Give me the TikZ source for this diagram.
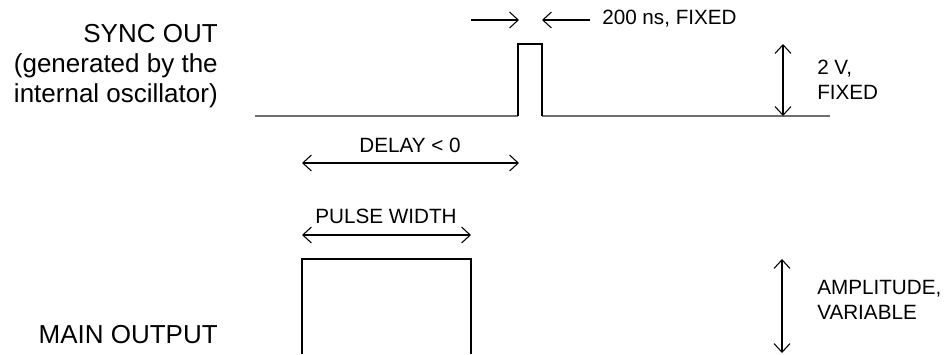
\documentclass[tikz,border=0pt]{standalone}
\usepackage{fontspec}
\setmainfont{Liberation Sans}
\usetikzlibrary{arrows.meta}
\definecolor{lgray}{RGB}{110, 110, 110}

\begin{document}
\begin{tikzpicture}[x = 0.75pt, y = -0.75pt,
	>={Straight Barb[length=6.5pt, width=12pt]},
	wave/.style = {line width = 1.1pt, black},
	base/.style = {line width = 1.5pt, lgray},
	dim/.style = {line width = 0.8pt, black},
	small/.style = {inner sep = 0pt, font = \fontsize{15.5pt}{18.5pt}\selectfont},
	big/.style = {inner sep = 0pt, font = \fontsize{19.5pt}{22.5pt}\selectfont}]
			\useasboundingbox (0,0) rectangle (945,354);
			% sync out waveform
			\coordinate (a) at (255,116);
			\coordinate (b) at (518,116);
			\coordinate (c) at (518,44);
			\coordinate (d) at (542,44);
			\coordinate (e) at (542,116);
			\coordinate (f) at (830,116);
			\draw[base] (a) -- (b);
			\draw[base] (e) -- (f);
			\draw[wave] (b) -- (c) -- (d) -- (e);
			% main output waveform
			\coordinate (g) at (302,354);
			\coordinate (h) at (302,259);
			\coordinate (i) at (471,259);
			\coordinate (j) at (471,354);
			\draw[wave] (g) -- (h) -- (i) -- (j);
			% dimension points
			\coordinate (w1) at (471,20);
			\coordinate (w2) at (519,20);
			\coordinate (w3) at (590,20);
			\coordinate (w4) at (542,20);
			\coordinate (v1) at (783,44);
			\coordinate (v2) at (783,116);
			\coordinate (d1) at (302,163);
			\coordinate (d2) at (519,163);
			\coordinate (p1) at (302,235);
			\coordinate (p2) at (471,235);
			\coordinate (m1) at (782,259);
			\coordinate (m2) at (782,353);
			\draw (w1) edge[dim, ->] (w2);
			\draw (w3) edge[dim, ->] (w4);
			\draw (v1) edge[dim, <->] (v2);
			\draw (d1) edge[dim, <->] (d2);
			\draw (p1) edge[dim, <->] (p2);
			\draw (m1) edge[dim, <->] (m2);
			% labels
			\node (t200) at (602,19) [small, anchor = west] {200 ns, FIXED};
			\node (t2v) at (817,80) [small, anchor = west, align = left] {2 V,\\FIXED};
			\node (tdelay) at (410,145) [small] {DELAY < 0};
			\node (tpw) at (386,216) [small] {PULSE WIDTH};
			\node (tamp) at (817,300) [small, anchor = west, align = left] {AMPLITUDE,\\VARIABLE};
			\node (tsync) at (218,66) [big, anchor = east, align = right] {SYNC OUT\\(generated by the\\internal oscillator)};
			\node (tmain) at (218,335) [big, anchor = east] {MAIN OUTPUT};
			\end{tikzpicture}
\end{document}
